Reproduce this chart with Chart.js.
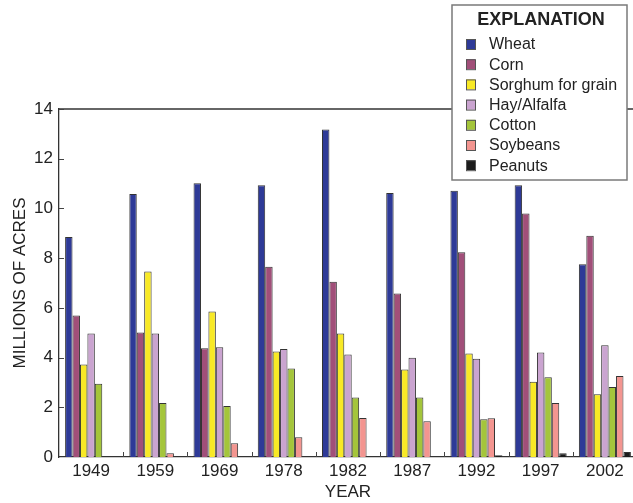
<!DOCTYPE html>
<html>
<head>
<meta charset="utf-8">
<script src="https://cdn.jsdelivr.net/npm/chart.js@4.4.1/dist/chart.umd.min.js"></script>
<style>
  html, body { margin: 0; padding: 0; background: #fff; overflow: hidden; }
  #wrap { width: 640px; height: 503px; position: relative; }
</style>
</head>
<body>
<div id="wrap"><canvas id="cropChart"></canvas></div>
<script>
// Harvested acreage by crop, millions of acres
const years = ['1949', '1959', '1969', '1978', '1982', '1987', '1992', '1997', '2002'];

const wheat    = [8.85, 10.58, 11.01, 10.93, 13.18, 10.62, 10.71, 10.93, 7.75];
const corn     = [5.69, 5.01, 4.38, 7.65, 7.05, 6.58, 8.24, 9.80, 8.90];
const sorghum  = [3.72, 7.46, 5.85, 4.24, 4.97, 3.52, 4.16, 3.03, 2.52];
const hay      = [4.97, 4.97, 4.42, 4.34, 4.12, 3.99, 3.95, 4.20, 4.50];
const cotton   = [2.95, 2.17, 2.05, 3.56, 2.39, 2.39, 1.52, 3.21, 2.82];
const soybeans = [0, 0.15, 0.55, 0.79, 1.57, 1.44, 1.56, 2.17, 3.26];
const peanuts  = [0, 0, 0, 0, 0, 0, 0.07, 0.15, 0.2];

const crops = [
  { label: 'Wheat',             data: wheat,    color: '#2e3a97' },
  { label: 'Corn',              data: corn,     color: '#a14f79' },
  { label: 'Sorghum for grain', data: sorghum,  color: '#f8e926' },
  { label: 'Hay/Alfalfa',       data: hay,      color: '#caa4d0' },
  { label: 'Cotton',            data: cotton,   color: '#a4c53b' },
  { label: 'Soybeans',          data: soybeans, color: '#f39590' },
  { label: 'Peanuts',           data: peanuts,  color: '#1c1c1c' }
];

const yTicks = [0, 2, 4, 6, 8, 10, 12, 14];
const FONT = "'Liberation Sans', Arial, sans-serif";
const INK = '#222';

// frame: top rule, inward y ticks, upward category separators
const framePlugin = {
  id: 'frame',
  afterDraw(chart) {
    const { ctx, chartArea: a, scales } = chart;
    ctx.save();
    ctx.strokeStyle = '#333';
    ctx.lineWidth = 1.3;
    ctx.beginPath();
    ctx.moveTo(a.left, a.top);
    ctx.lineTo(chart.width, a.top);
    ctx.stroke();

    ctx.lineWidth = 1;
    ctx.strokeStyle = '#444';
    yTicks.forEach(v => {
      if (v === 0) return;
      const y = Math.round(scales.y.getPixelForValue(v)) + 0.5;
      ctx.beginPath();
      ctx.moveTo(a.left, y);
      ctx.lineTo(a.left + 5, y);
      ctx.stroke();
    });

    const step = (a.right - a.left) / years.length;
    for (let i = 1; i < years.length; i++) {
      const x = Math.round(a.left + step * i) + 0.5;
      ctx.beginPath();
      ctx.moveTo(x, a.bottom);
      ctx.lineTo(x, a.bottom - 5);
      ctx.stroke();
    }
    ctx.restore();
  }
};

// boxed legend titled EXPLANATION
const explanationPlugin = {
  id: 'explanation',
  afterDraw(chart) {
    const { ctx } = chart;
    const box = { x: 452, y: 5, w: 175, h: 175 };
    ctx.save();
    ctx.fillStyle = '#fff';
    ctx.fillRect(box.x, box.y, box.w, box.h);
    ctx.strokeStyle = '#7a7a7a';
    ctx.lineWidth = 1.5;
    ctx.strokeRect(box.x, box.y, box.w, box.h);

    ctx.fillStyle = INK;
    ctx.textAlign = 'center';
    ctx.textBaseline = 'middle';
    ctx.font = "bold 18px 'Liberation Sans Narrow', " + FONT;
    ctx.fillText('EXPLANATION', box.x + 89, 20);

    ctx.textAlign = 'left';
    ctx.font = '16px ' + FONT;
    chart.data.datasets.forEach((ds, i) => {
      const cy = 44 + i * 20.2;
      ctx.fillStyle = ds.backgroundColor;
      ctx.fillRect(466, cy - 5, 9, 10);
      ctx.strokeStyle = '#555';
      ctx.lineWidth = 1;
      ctx.strokeRect(466.5, cy - 4.5, 9, 10);
      ctx.fillStyle = INK;
      ctx.fillText(ds.label, 489, cy + 1);
    });
    ctx.restore();
  }
};

new Chart(document.getElementById('cropChart').getContext('2d'), {
  type: 'bar',
  data: {
    labels: years,
    datasets: crops.map(c => ({
      label: c.label,
      data: c.data,
      backgroundColor: c.color,
      borderColor: '#333',
      borderWidth: 1,
      borderSkipped: 'bottom',
      categoryPercentage: 0.81,
      barPercentage: 1.0
    }))
  },
  options: {
    responsive: true,
    maintainAspectRatio: false,
    animation: false,
    devicePixelRatio: 1,
    layout: { padding: { top: 109, right: 3, left: 0, bottom: 0 } },
    plugins: {
      legend: { display: false },
      tooltip: { enabled: false }
    },
    scales: {
      x: {
        grid: { display: false, drawTicks: false },
        border: { display: true, color: '#333', width: 1.3 },
        ticks: { color: INK, font: { family: FONT, size: 17 }, padding: 4, maxRotation: 0 },
        title: { display: true, text: 'YEAR', color: INK, font: { family: FONT, size: 17 }, padding: { top: 0, bottom: 0 } },
        afterFit(scale) { scale.height = 46; }
      },
      y: {
        min: 0,
        max: 14,
        afterBuildTicks(scale) { scale.ticks = yTicks.map(v => ({ value: v })); },
        grid: { display: false, drawTicks: false },
        border: { display: true, color: '#333', width: 1.3 },
        ticks: { color: INK, font: { family: FONT, size: 17 }, padding: 6 },
        title: { display: true, text: 'MILLIONS OF ACRES', color: INK, font: { family: FONT, size: 17 }, padding: { top: 10, bottom: 0 } },
        afterFit(scale) { scale.width = 59; }
      }
    }
  },
  plugins: [framePlugin, explanationPlugin]
});
</script>
</body>
</html>
